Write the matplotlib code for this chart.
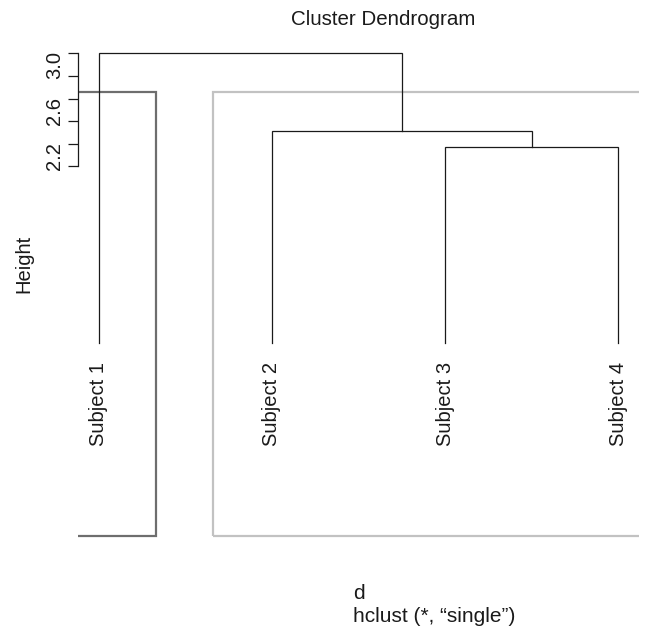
import numpy as np
import matplotlib
matplotlib.use("Agg")
import matplotlib.pyplot as plt
from matplotlib.patches import Rectangle
from matplotlib.transforms import blended_transform_factory

plt.rcParams['font.family'] = ['Liberation Sans', 'DejaVu Sans']

# leaf order and labels
labels = ['Subject 1', 'Subject 2', 'Subject 3', 'Subject 4']
# merges: (left, right, height); negative = leaf index (1-based), positive = earlier merge
merge_left = [-3, -2, -1]
merge_right = [-4, 1, 2]
merge_height = [2.17, 2.31, 3.0]
leaf_height = 0.44

y_ticks = [2.0, 2.2, 2.4, 2.6, 2.8, 3.0]
y_labels = ['3.0', '2.6', '2.2']

# rect.hclust with k = 2
clusters = [[1], [2, 3, 4]]
rect_colors = ['#6e6e6e', '#c2c2c2']

text_col = '#1a1a1a'
line_col = '#1a1a1a'

fig = plt.figure(figsize=(6.45, 6.34), dpi=100)
ax = fig.add_axes([78 / 645, 1 - 538 / 634, 561 / 645, 488 / 634])
ax.set_xlim(0.88, 4.12)
ax.set_ylim(-1.285, 3.03)

# rectangles round the two clusters (drawn below the tree)
rect_top = np.mean(sorted(merge_height)[-2:])
for members, col in zip(clusters, rect_colors):
    x0 = min(members) - 0.34
    x1 = max(members) + 0.33
    ax.add_patch(Rectangle((x0, -1.27), x1 - x0, rect_top + 1.27,
                           fill=False, edgecolor=col, lw=1.6, zorder=1))

# dendrogram
node_x = {}
node_h = {}
for i in range(len(labels)):
    node_x[-(i + 1)] = i + 1
    node_h[-(i + 1)] = leaf_height
for k, (a, b, h) in enumerate(zip(merge_left, merge_right, merge_height), start=1):
    xa, xb = node_x[a], node_x[b]
    ax.plot([xa, xa, xb, xb], [node_h[a], h, h, node_h[b]],
            color=line_col, lw=0.9, zorder=3, clip_on=False, solid_joinstyle='miter')
    node_x[k] = (xa + xb) / 2
    node_h[k] = h

for i, lab in enumerate(labels):
    ax.annotate(lab, xy=(i + 1, leaf_height), xytext=(0, -14), textcoords='offset points',
                rotation=90, ha='center', va='top', fontsize=14.5, color=text_col)

# y axis
for s in ['top', 'right', 'bottom']:
    ax.spines[s].set_visible(False)
ax.spines['left'].set_bounds(2.0, 3.0)
ax.spines['left'].set_linewidth(0.9)
ax.spines['left'].set_color(line_col)
ax.set_xticks([])
ax.set_yticks(y_ticks)
ax.set_yticklabels([])
ax.tick_params(axis='y', length=7, width=0.9, color=line_col)
trans = blended_transform_factory(ax.transAxes, ax.transData)
for lab in y_labels:
    ax.annotate(lab, xy=(0, float(lab)), xycoords=trans, xytext=(-10, -8.6),
                textcoords='offset points', rotation=90, ha='right', va='center',
                fontsize=14.5, color=text_col)

fig.text(383 / 645, 1 - 25 / 634, 'Cluster Dendrogram', ha='center', va='baseline',
         fontsize=14.8, color=text_col)
fig.text(24 / 645, 1 - 264 / 634, 'Height', rotation=90, ha='center', va='center',
         fontsize=14.5, color=text_col)
fig.text(353 / 645, 1 - 599 / 634, 'd', ha='left', va='baseline',
         fontsize=15, color=text_col)
fig.text(353 / 645, 1 - 622 / 634, 'hclust (*, \u201csingle\u201d)', ha='left', va='baseline',
         fontsize=15, color=text_col)

fig.savefig('out.png', dpi=100)
